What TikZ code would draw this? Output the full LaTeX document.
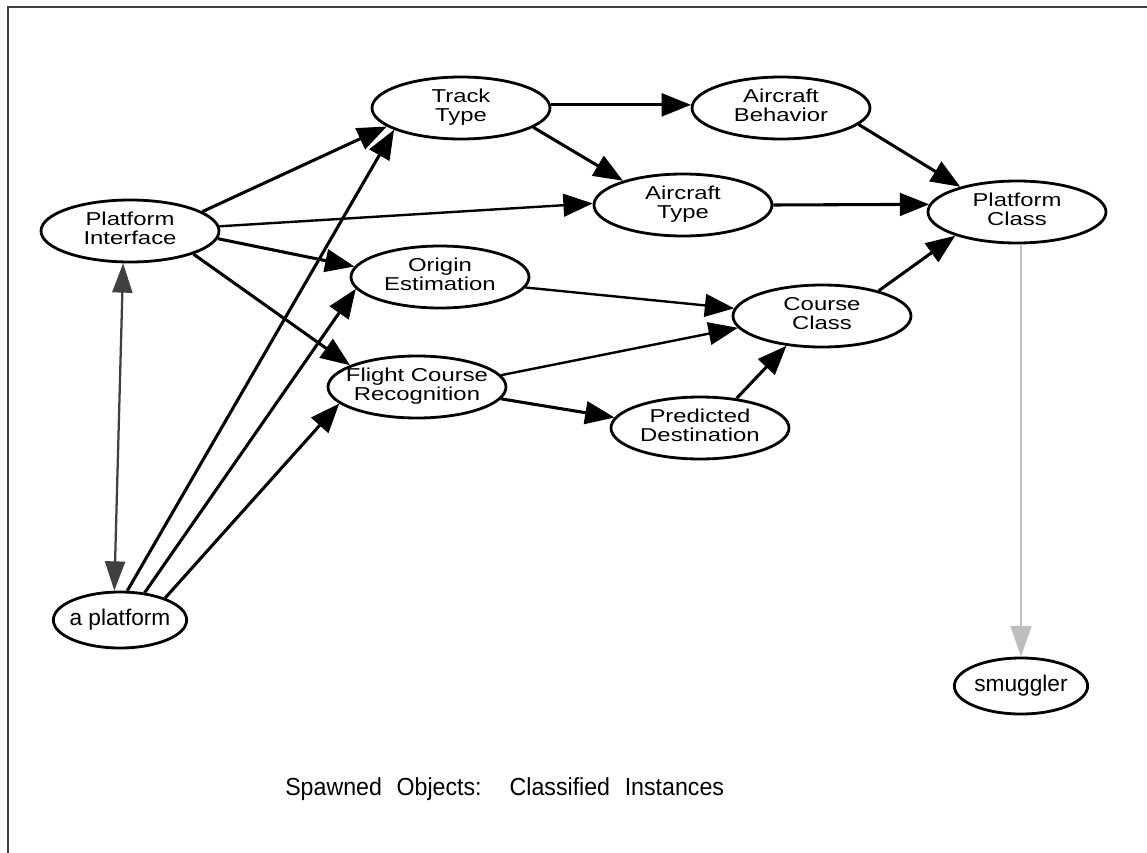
\documentclass[tikz,border=0pt]{standalone}
\usepackage{fontspec}
\setmainfont{Liberation Sans}
\newfontfamily\widefont{Liberation Sans}[FakeStretch=1.28]
\newfontfamily\tallfont{Liberation Sans}[FakeStretch=0.94]
\usetikzlibrary{shapes.geometric,arrows.meta}

% centred multi-line label that does not widen its oval
\newcommand{\ovtext}[1]{\makebox[0pt]{\begin{tabular}{@{}c@{}}#1\end{tabular}}}

\definecolor{framegray}{HTML}{404040}
\definecolor{lightgray}{HTML}{BEBEBE}

\tikzset{
  frame/.style={draw=framegray, line width=2pt},
  oval/.style={ellipse, draw, line width=2.1pt, fill=white,
    minimum width=133.5pt, minimum height=46.5pt, inner sep=0pt,
    font={\widefont\fontsize{14pt}{14.5pt}\selectfont}},
  inst/.style={ellipse, draw, line width=2.1pt, fill=white,
    minimum width=100pt, minimum height=42pt, inner sep=0pt,
    font={\fontsize{17pt}{19pt}\selectfont}},
  edge/.style={line width=2.3pt, -{Triangle[length=22pt,width=17pt]}},
  thinedge/.style={line width=1.8pt, -{Triangle[length=22pt,width=17pt]}},
  linkedge/.style={draw=framegray, line width=1.7pt,
    {Triangle[length=22pt,width=15pt]}-{Triangle[length=22pt,width=15pt]}},
  spawnedge/.style={draw=lightgray, line width=2.2pt,
    -{Triangle[length=23pt,width=15.5pt]}},
  caption/.style={font={\tallfont\fontsize{18.5pt}{20pt}\selectfont}, inner sep=0pt}
}

\begin{document}
\begin{tikzpicture}[x=0.75pt, y=-0.75pt]
\useasboundingbox (0,0) rectangle (1147,853);
\draw[frame] (8,853) -- (8,7) -- (1147,7);

% class nodes
\node[oval] (tt)  at (461,108)  {\ovtext{Track\\Type}};
\node[oval] (ab)  at (781,108)  {\ovtext{Aircraft\\Behavior}};
\node[oval] (at)  at (683,205)  {\ovtext{Aircraft\\Type}};
\node[oval] (pc)  at (1017,212) {\ovtext{Platform\\Class}};
\node[oval] (cc)  at (822,316)  {\ovtext{Course\\Class}};
\node[oval] (oe)  at (440,277)  {\ovtext{Origin\\Estimation}};
\node[oval] (fcr) at (417,387)  {\ovtext{Flight Course\\Recognition}};
\node[oval] (pd)  at (700,428)  {\ovtext{Predicted\\Destination}};
\node[oval] (pi)  at (130,231)  {\ovtext{Platform\\Interface}};

% instances
\node[inst] (ap) at (120,620)  {\makebox[0pt]{a platform}};
\node[inst] (sm) at (1021,686) {\makebox[0pt]{smuggler}};

% dependencies
\draw[edge] (tt.2) -- (ab.178);
\draw[edge] (tt.-15) -- (at.158);
\draw[edge] (ab.-12) -- (pc.156);
\draw[edge] (at.0) -- (pc.175);
\draw[edge] (cc.24) -- (pc.201);
\draw[edge] (pi.15) -- (tt.194);
\draw[thinedge] (pi.3) -- (at.179);
\draw[edge] (pi.-5) -- (oe.173);
\draw[edge] (pi.-20) -- (fcr.162);
\draw[edge] (ap.76) -- (tt.198);
\draw[edge] (ap.48) -- (oe.188);
\draw[edge] (ap.26) -- (fcr.192);
\draw[thinedge] (oe.-7) -- (cc.175);
\draw[thinedge] (fcr.8) -- (cc.188);
\draw[edge] (fcr.-8) -- (pd.173);
\draw[edge] (pd.39) -- (cc.220);

\draw[linkedge] (pi.258) -- (ap.101);
\draw[spawnedge] (pc.south -| sm.north) -- (sm.north);

\node[caption, anchor=base west] (cap) at (285,795)
  {Spawned\hspace{11pt}Objects:\hspace{21pt}Classified\hspace{11pt}Instances};
\end{tikzpicture}
\end{document}
